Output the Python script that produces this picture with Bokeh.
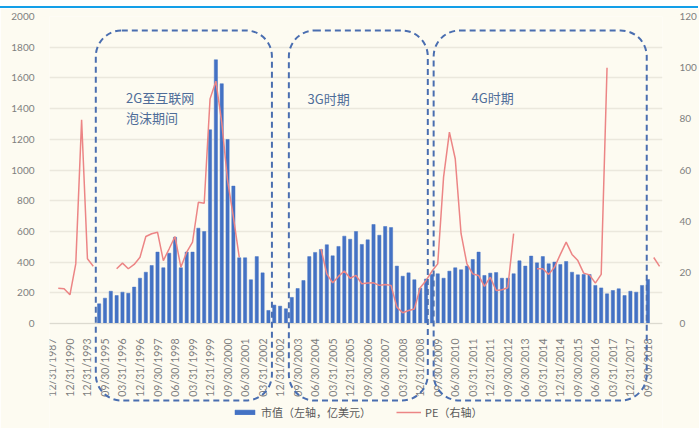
import math
from bokeh.plotting import figure
from bokeh.layouts import column
from bokeh.models import (Range1d, LinearAxis, FixedTicker, BoxAnnotation,
                          Legend, LegendItem, ColumnDataSource, Div)
from bokeh.core.properties import value
from bokeh.embed import file_html
from bokeh.resources import INLINE

NaN = float("nan")

# ---- data -------------------------------------------------------------
tick_labels = ["12/31/1987", "12/31/1990", "12/31/1993", "09/30/1995", "03/31/1996",
               "12/31/1996", "09/30/1997", "06/30/1998", "03/31/1999", "12/31/1999",
               "09/30/2000", "06/30/2001", "03/31/2002", "12/31/2002", "09/30/2003",
               "06/30/2004", "03/31/2005", "12/31/2005", "09/30/2006", "06/30/2007",
               "03/31/2008", "12/31/2008", "09/30/2009", "06/30/2010", "03/31/2011",
               "12/31/2011", "09/30/2012", "06/30/2013", "03/31/2014", "12/31/2014",
               "09/30/2015", "06/30/2016", "03/31/2017", "12/31/2017", "09/30/2018"]

# market cap (left axis, 100m USD), one value per period (105 periods)
mktcap = [NaN, NaN, NaN, NaN, NaN, NaN, NaN, NaN,
          128, 165, 210, 182, 204, 197, 237, 295, 334, 378,
          465, 363, 458, 562, 363, 465, 465, 621, 599, 1262,
          1718, 1562, 1199, 895, 428, 428, 285, 436, 330, 85,
          120, 113, 96, 170, 228, 280, 436, 463, 482, 513,
          441, 502, 569, 549, 599, 515, 545, 645, 575, 632,
          625, 374, 308, 330, 285, 230, 290, 320, 324, 295,
          341, 363, 350, 374, 417, 465, 313, 328, 332, 295,
          295, 324, 408, 374, 439, 395, 436, 389, 400, 384,
          404, 334, 317, 319, 319, 248, 232, 193, 215, 226,
          182, 210, 204, 248, 287, NaN, NaN]

# PE (right axis)
pe = [NaN, 13.8, 13.6, 11.2, 23.3, 79.6, 25.3, 22.4, NaN, NaN,
      NaN, 21.4, 23.6, 21.4, 23.1, 25.9, 34.0, 35.1, 35.7, 24.6,
      29.2, 34.0, 22.0, 27.9, 31.8, 47.4, 47.0, 87.8, 94.7, 78.7,
      55.9, 41.6, 25.9, NaN, NaN, NaN, NaN, NaN, NaN, NaN,
      NaN, NaN, NaN, NaN, NaN, NaN, 29.2, 19.4, 15.9, 18.4,
      20.5, 17.7, 18.8, 15.5, 15.8, 15.9, 14.9, 15.2, 14.9, 6.4,
      4.2, 5.1, 5.7, 14.0, 16.8, 20.4, 23.3, 57.2, 74.8, 64.4,
      35.1, 23.3, 19.4, 18.8, 14.5, 18.1, 12.9, 13.2, 14.0, 35.1,
      NaN, NaN, NaN, 21.4, 21.4, 19.2, 22.0, 27.0, 31.8, 27.0,
      24.6, 19.7, 19.0, 15.8, 19.2, 100.0, NaN, NaN, NaN, NaN,
      NaN, NaN, NaN, 25.8, 22.3]

period_labels = ["2G至互联网", "泡沫期间", "3G时期", "4G时期"]

idx = list(range(len(mktcap)))
tick_pos = [3 * i for i in range(len(tick_labels))]

# ---- figure -----------------------------------------------------------
BG = "#fdfbf1"
GRAY = "#7f7f7f"
NUM_FONT = "Lato"
CJK = "Noto Sans CJK SC"

PX_BELOW = 105         # frame extends below the zero line (period boxes + legend)
FRAME_H = 307 + PX_BELOW
cap_per_px = 2000 / 307
pe_per_px = 120 / 307

p = figure(frame_width=613, frame_height=FRAME_H,
           min_border_left=49, min_border_right=36, min_border_top=8, min_border_bottom=0,
           x_range=Range1d(-0.5, 104.5),
           y_range=Range1d(-PX_BELOW * cap_per_px, 2000),
           output_backend="svg", toolbar_location=None,
           background_fill_color=BG, border_fill_color=BG, outline_line_color=None)

p.extra_y_ranges = {"pe": Range1d(-PX_BELOW * pe_per_px, 120)}

src = ColumnDataSource(dict(x=idx, cap=mktcap, pe=pe))
bars = p.vbar(x="x", top="cap", width=0.55, source=src,
              fill_color="#4472c4", line_color="#4472c4", line_width=0.5)
line = p.line(x="x", y="pe", source=src, y_range_name="pe",
              line_color="#ec8585", line_width=1.5)

# axes
p.xaxis.fixed_location = 0
p.xaxis.ticker = FixedTicker(ticks=tick_pos)
p.xaxis.major_label_overrides = {t: lab for t, lab in zip(tick_pos, tick_labels)}
p.xaxis.major_label_orientation = math.pi / 2
p.xaxis.axis_line_color = "#dcdad0"
p.xaxis.major_tick_line_color = None
p.xaxis.minor_tick_line_color = None
p.xaxis.major_label_text_font = NUM_FONT
p.xaxis.major_label_text_font_size = "10.5px"
p.xaxis.major_label_text_color = GRAY
p.xaxis.major_label_standoff = 9

p.yaxis.ticker = FixedTicker(ticks=list(range(0, 2001, 200)))
p.yaxis.axis_line_color = None
p.yaxis.major_tick_line_color = None
p.yaxis.minor_tick_line_color = None
p.yaxis.major_label_text_font = NUM_FONT
p.yaxis.major_label_text_font_size = "10px"
p.yaxis.major_label_text_color = GRAY
p.yaxis.major_label_standoff = 9

ax2 = LinearAxis(y_range_name="pe", ticker=FixedTicker(ticks=list(range(0, 121, 20))))
ax2.axis_line_color = None
ax2.major_tick_line_color = None
ax2.minor_tick_line_color = None
ax2.major_label_text_font = NUM_FONT
ax2.major_label_text_font_size = "10px"
ax2.major_label_text_color = GRAY
ax2.major_label_standoff = 11
p.add_layout(ax2, "right")

p.xgrid.grid_line_color = None
p.ygrid.grid_line_color = "#ebe8dd"
p.ygrid.grid_line_width = 1.5

# period boxes (dashed, rounded)
box_edges = [(7.43, 37.6), (40.5, 64.3), (65.3, 101.8)]
for (l, r) in box_edges:
    p.add_layout(BoxAnnotation(left=l, right=r, top=1909, bottom=-502,
                               fill_alpha=0, line_color="#4a6eb0", line_alpha=1,
                               line_width=2, line_dash="6 4", border_radius=26))

# period labels
lab_x = [12.6, 12.6, 43.7, 71.8]
lab_y = [1472, 1340, 1466, 1472]
p.text(x=lab_x, y=lab_y, text=period_labels, text_font=value(CJK), text_font_size="13px",
       text_color="#4f6d99", text_baseline="middle", text_align="left")

legend = Legend(items=[LegendItem(label="市值（左轴，亿美元）", renderers=[bars]),
                       LegendItem(label="PE（右轴）", renderers=[line])],
                orientation="horizontal", location=(183, 8),
                background_fill_alpha=0, border_line_color=None,
                label_text_font=CJK, label_text_font_size="11px",
                label_text_color="#595959", glyph_width=25, glyph_height=6,
                label_height=14, spacing=25, padding=0, margin=0, label_standoff=4)
p.add_layout(legend)

rule = Div(text="", width=698, height=2, margin=(6, 0, 0, 0),
           styles={"background-color": "#139fe8"})

layout = column(rule, p, spacing=0)
open("out.html", "w").write(file_html(layout, INLINE))
